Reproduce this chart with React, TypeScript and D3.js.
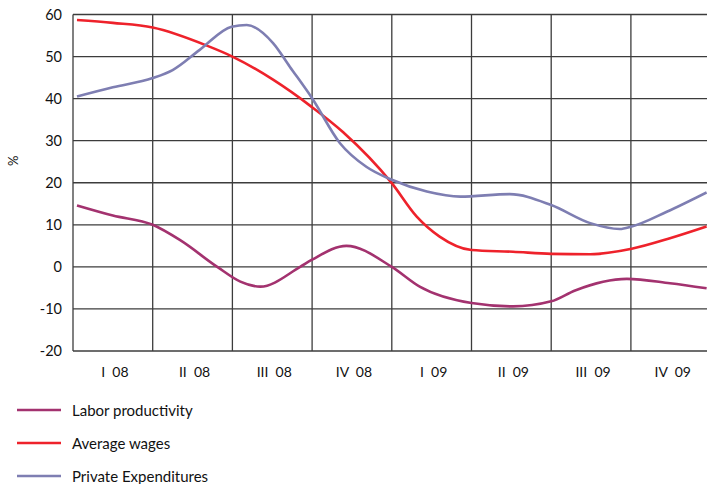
import React from "react";
import * as d3 from "d3";

const quarters = ["I  08", "II  08", "III  08", "IV  08", "I  09", "II  09", "III  09", "IV  09"];
const yTicks = [60, 50, 40, 30, 20, 10, 0, -10, -20];
// positions in quarter units from chart start, and values
const laborPos = [0.05, 0.5, 1, 1.34, 1.81, 2.1, 2.35, 2.85, 3.0, 3.43, 4.0, 4.35, 5.0, 5.52, 6.0, 6.3, 6.95, 7.49, 7.95];
const laborProductivity = [14.6, 12.2, 10, 6.4, 0, -3.5, -4.7, 0, 1.7, 5.0, 0, -4.7, -8.6, -9.4, -8.2, -5.6, -2.85, -3.9, -5.1];
const wagesPos = [0.05, 0.5, 1, 1.68, 2.0, 2.51, 2.99, 3.39, 4.0, 4.31, 4.6, 5.0, 5.52, 6.0, 6.49, 7.01, 7.49, 7.95];
const averageWages = [58.7, 58.0, 56.9, 52.6, 50.0, 44.5, 38.1, 32.0, 19.9, 12.0, 7.2, 4.0, 3.6, 3.1, 3.0, 4.3, 6.8, 9.6];
const privatePos = [0.05, 0.5, 1, 1.25, 1.59, 1.99, 2.18, 2.51, 2.72, 3.0, 3.35, 3.68, 4.0, 4.44, 4.86, 5.48, 6.0, 6.49, 6.86, 7.01, 7.45, 7.95];
const privateExpenditures = [40.5, 42.7, 44.9, 46.8, 51.6, 57.1, 57.5, 53.2, 47.6, 40.1, 29.4, 23.8, 20.7, 17.9, 16.7, 17.3, 14.7, 10.4, 9.0, 9.6, 13.1, 17.7];

const seriesNames = ["Labor productivity", "Average wages", "Private Expenditures"];
const seriesColors = ["#a3326f", "#ee222b", "#7e7eb2"];
const seriesPos = [laborPos, wagesPos, privatePos];
const seriesData = [laborProductivity, averageWages, privateExpenditures];

const W = 707, H = 484;
const left = 73, top = 14.5, bottom = 351;
const qWidth = 79.7;

export default function App() {
  const x = d3.scaleLinear().domain([0, 8]).range([left, left + 8 * qWidth]);
  const y = d3.scaleLinear().domain([-20, 60]).range([bottom, top]);
  const line = d3
    .line<[number, number]>()
    .x((d) => x(d[0]))
    .y((d) => y(d[1]))
    .curve(d3.curveMonotoneX);
  const font = "Lato, 'Open Sans', sans-serif";
  return (
    <svg width={W} height={H} style={{ position: "absolute", left: 0, top: 0, background: "#fff" }}>
      {yTicks.map((t) => (
        <line key={"h" + t} x1={left} x2={W} y1={y(t)} y2={y(t)} stroke="#3c3c3c" strokeWidth={1.3} />
      ))}
      {d3.range(0, 8).map((i) => (
        <line key={"v" + i} x1={x(i)} x2={x(i)} y1={top} y2={bottom} stroke="#3c3c3c" strokeWidth={1.3} />
      ))}
      {yTicks.map((t) => (
        <text key={"t" + t} x={62} y={y(t) + 5} textAnchor="end" fontFamily={font} fontSize={14.5} fill="#111">
          {t}
        </text>
      ))}
      <text
        transform={`translate(18,${y(30) + 20}) rotate(-90)`}
        textAnchor="middle"
        fontFamily={font}
        fontSize={13}
        fill="#111"
      >
        %
      </text>
      {quarters.map((q, i) => (
        <text
          key={q}
          x={x(i + 0.5) + 2}
          y={377}
          textAnchor="middle"
          fontFamily={font}
          fontSize={14}
          fill="#111"
          style={{ whiteSpace: "pre" }}
        >
          {q}
        </text>
      ))}
      {seriesData.map((vals, si) => (
        <path
          key={seriesNames[si]}
          d={line(vals.map((v, i) => [seriesPos[si][i], v] as [number, number])) || ""}
          fill="none"
          stroke={seriesColors[si]}
          strokeWidth={2.6}
        />
      ))}
      {seriesNames.map((n, i) => (
        <g key={n} transform={`translate(0,${410 + i * 33})`}>
          <line x1={17} x2={61} y1={0} y2={0} stroke={seriesColors[i]} strokeWidth={2.6} />
          <text x={72} y={5.5} fontFamily={font} fontSize={15} fill="#111">
            {n}
          </text>
        </g>
      ))}
    </svg>
  );
}
